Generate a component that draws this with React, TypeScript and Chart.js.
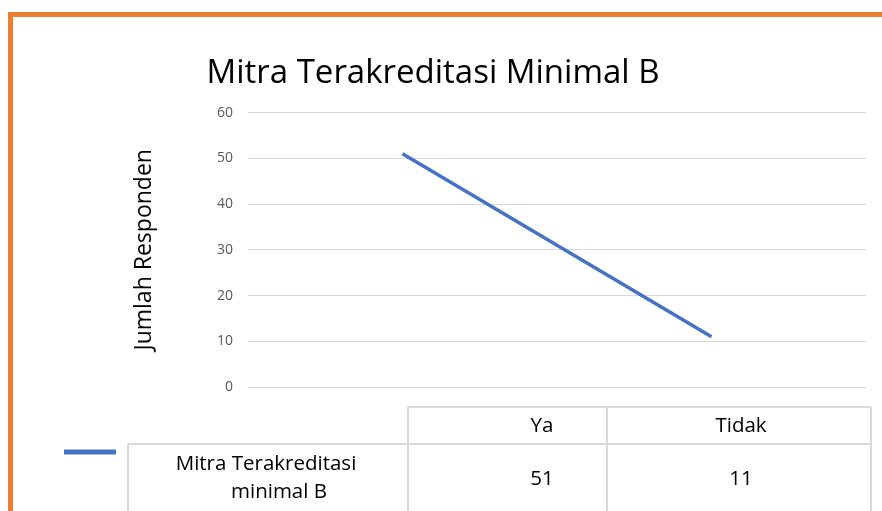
import { useEffect, useRef } from "react";
import { Chart, registerables } from "chart.js";

Chart.register(...registerables);

const categories = ["Ya", "Tidak"];
const seriesName = ["Mitra Terakreditasi", "minimal B"];
const seriesValues = [51, 11];
const yTickMin = 0;
const yTickMax = 60;
const yTickStep = 10;
const chartTitle = "Mitra Terakreditasi Minimal B";
const yAxisTitle = "Jumlah Responden";

const FONT = "'Open Sans', Lato, 'Liberation Sans', sans-serif";
const ORANGE = "#ED7D31";
const BLUE = "#4472C4";
const GRID = "#D9D9D9";

const framePlugin = {
  id: "frame",
  beforeDraw(chart: any) {
    const { ctx, width, height } = chart;
    ctx.save();
    ctx.fillStyle = "#ffffff";
    ctx.fillRect(0, 0, width, height);
    ctx.fillStyle = ORANGE;
    ctx.fillRect(8, 12, width - 8, 5);
    ctx.fillRect(8, 12, 5, height - 12);
    ctx.restore();
  },
};

const tablePlugin = {
  id: "dataTable",
  afterDraw(chart: any) {
    const { ctx, height } = chart;
    const area = chart.chartArea;
    const right = area.right + 5;
    const colA = 408;
    const colB = 607;
    const rowLeft = 128;
    const headTop = 407;
    const headBottom = 444;
    ctx.save();
    ctx.strokeStyle = GRID;
    ctx.lineWidth = 2;
    ctx.beginPath();
    ctx.moveTo(colA, headTop);
    ctx.lineTo(right, headTop);
    ctx.moveTo(rowLeft, headBottom);
    ctx.lineTo(right, headBottom);
    ctx.moveTo(colA, headTop);
    ctx.lineTo(colA, height);
    ctx.moveTo(colB, headTop);
    ctx.lineTo(colB, height);
    ctx.moveTo(right, headTop);
    ctx.lineTo(right, height);
    ctx.moveTo(rowLeft, headBottom);
    ctx.lineTo(rowLeft, height);
    ctx.stroke();

    // legend key
    const ds = chart.data.datasets[0];
    ctx.strokeStyle = ds.borderColor;
    ctx.lineWidth = 5;
    ctx.beginPath();
    ctx.moveTo(64, 452);
    ctx.lineTo(116, 452);
    ctx.stroke();

    ctx.fillStyle = "#000000";
    ctx.font = `20.5px ${FONT}`;
    ctx.textAlign = "center";
    ctx.textBaseline = "middle";
    const headX = [542, 741];
    const labels = chart.data.labels;
    labels.forEach((l: string, i: number) => {
      ctx.fillText(l, headX[i], 426);
      ctx.fillText(String(ds.data[i]), headX[i], 479);
    });
    ctx.fillText(seriesName[0], 266, 464);
    ctx.fillText(seriesName[1], 279, 492);
    ctx.restore();
  },
};

export default function App() {
  const ref = useRef<HTMLCanvasElement | null>(null);
  useEffect(() => {
    document.body.style.margin = "0";
    if (!ref.current) return;
    const chart = new Chart(ref.current, {
      type: "line",
      data: {
        labels: categories,
        datasets: [
          {
            label: seriesName.join(" "),
            data: seriesValues,
            borderColor: BLUE,
            backgroundColor: BLUE,
            borderWidth: 3.5,
            pointRadius: 0,
            tension: 0,
            fill: false,
          },
        ],
      },
      options: {
        responsive: false,
        animation: false,
        layout: { padding: { left: 0, right: 16, top: 0, bottom: 124 } },
        plugins: {
          legend: { display: false },
          tooltip: { enabled: false },
          title: {
            display: true,
            text: chartTitle,
            color: "#000000",
            font: { family: FONT, size: 33, weight: "normal" },
            padding: { top: 54, bottom: 19 },
          },
        },
        scales: {
          x: {
            display: false,
            offset: true,
          },
          y: {
            min: yTickMin,
            max: yTickMax,
            border: { display: false },
            grid: { color: GRID, lineWidth: 1, drawTicks: false },
            ticks: {
              stepSize: yTickStep,
              padding: 15,
              color: "#595959",
              font: { family: FONT, size: 14 },
            },
            title: {
              display: true,
              text: yAxisTitle,
              color: "#000000",
              font: { family: FONT, size: 23 },
              padding: { top: 131, bottom: 0 },
            },
            afterFit(scale: any) {
              scale.width = 248;
            },
          },
        },
      },
      plugins: [framePlugin, tablePlugin],
    });
    return () => chart.destroy();
  }, []);
  return (
    <div style={{ width: 882, height: 511 }}>
      <canvas ref={ref} width={882} height={511} />
    </div>
  );
}
